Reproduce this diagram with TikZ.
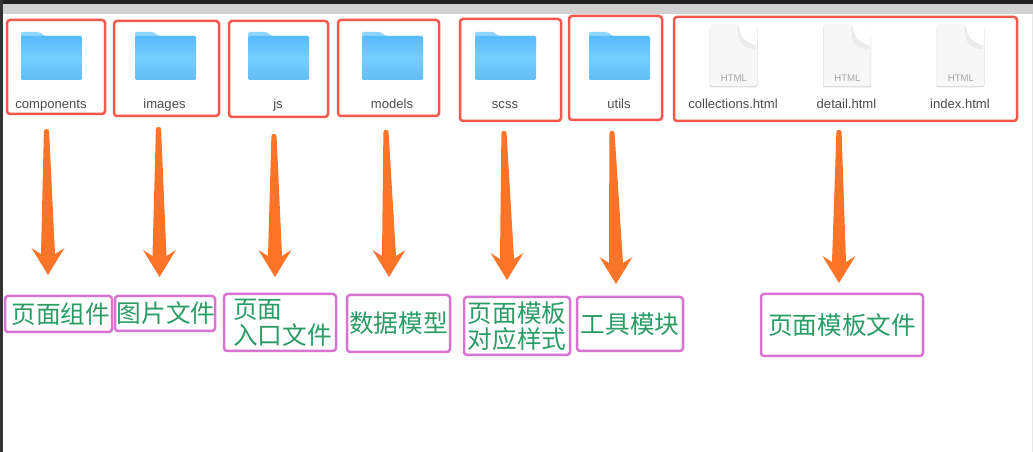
\documentclass[tikz,border=0pt]{standalone}
\usepackage{fontspec}
\setmainfont{Liberation Sans}
\newfontfamily\cjk{Noto Sans CJK SC}
\usetikzlibrary{calc}
\definecolor{redbox}{HTML}{F4574D}
\definecolor{purplebox}{HTML}{D873D2}
\definecolor{greentext}{HTML}{2A9C64}
\definecolor{orangearrow}{HTML}{FB7428}
\definecolor{foldback}{HTML}{90D5FF}
\definecolor{foldtop}{HTML}{58BBFA}
\definecolor{foldmid}{HTML}{76CDFF}
\definecolor{foldlow}{HTML}{62BEF5}
\tikzset{
  filebox/.style={draw=redbox,line width=2.5*.75pt,rounded corners=3*.75pt,inner sep=0pt},
  labelbox/.style={draw=purplebox,line width=2.5*.75pt,rounded corners=3*.75pt,inner sep=0pt,text=greentext,font=\cjk\fontsize{18.5pt}{19.6pt}\selectfont,align=left},
  fname/.style={font=\fontsize{9.8pt}{10pt}\selectfont,text=black!70,inner sep=0pt,anchor=base},
  htmltag/.style={font=\fontsize{7.2pt}{8pt}\selectfont,text=black!35,inner sep=0pt},
}
\newcommand{\folderat}[2]{%
  \fill[foldback,rounded corners=1pt] (#1,#2+12) -- (#1,#2) -- (#1+18,#2) -- (#1+24,#2+4) -- (#1+61,#2+4) -- (#1+61,#2+14) -- cycle;
  \shade[top color=foldtop,bottom color=foldlow,middle color=foldmid,rounded corners=1pt] (#1,#2+4) rectangle (#1+61,#2+48);
}
\newcommand{\fileat}[2]{%
  \fill[black!13,rounded corners=1.5pt] (#1-.5,#2+2) rectangle (#1+47.5,#2+63.5);
  \fill[black!3,rounded corners=1.5pt] (#1,#2) -- (#1+28,#2) -- (#1+47,#2+22) -- (#1+47,#2+62) -- (#1,#2+62) -- cycle;
  \fill[black!8,rounded corners=3pt] (#1+27,#2) -- (#1+29,#2+16) -- (#1+34,#2+23) -- (#1+47.5,#2+26) -- (#1+40,#2+10) -- cycle;
  \fill[white] (#1+29,#2+1) .. controls (#1+30,#2+13) and (#1+34,#2+17) .. (#1+47,#2+22) -- (#1+47,#2+24) .. controls (#1+42,#2+12) and (#1+36,#2+5) .. (#1+29,#2) -- cycle;
  \fill[white] (#1+29,#2) -- (#1+47,#2+22) -- (#1+47.5,#2) -- cycle;
}
\newcommand{\taperarrow}[2]{%
  \fill[orangearrow] ($(#1)+(-2.6,1.5)$) -- ($(#2)+(-7,-21)$) -- ($(#2)+(-16.5,-27)$) -- (#2) -- ($(#2)+(16.5,-27)$) -- ($(#2)+(7,-21)$) -- ($(#1)+(2.6,1.5)$) .. controls ($(#1)+(2.4,-.6)$) and ($(#1)+(1.5,-1)$) .. ($(#1)+(0,-1)$) .. controls ($(#1)+(-1.5,-1)$) and ($(#1)+(-2.4,-.6)$) .. cycle;
}
\begin{document}
\begin{tikzpicture}[x=.75pt,y=-.75pt]
\useasboundingbox (0,0) rectangle (1033,452);
\fill[white] (0,0) rectangle (1033,452);
% window chrome
\fill[black!18] (0,4) rectangle (1033,14);
\fill[black!87] (0,0) rectangle (1033,4);
\fill[black!80] (0,0) rectangle (2.5,452);
\fill[black!9] (1032,14) rectangle (1033,452);
% red boxes
\node[filebox,minimum width=98*.75pt,minimum height=94*.75pt] (fcomp) at (56,67) {};
\node[filebox,minimum width=105*.75pt,minimum height=95*.75pt] (fimg) at (166.5,68.5) {};
\node[filebox,minimum width=99*.75pt,minimum height=96*.75pt] (fjs) at (278.5,69) {};
\node[filebox,minimum width=101*.75pt,minimum height=96*.75pt] (fmod) at (388.5,68) {};
\node[filebox,minimum width=101*.75pt,minimum height=102*.75pt] (fscss) at (510.5,70) {};
\node[filebox,minimum width=93*.75pt,minimum height=104*.75pt] (futil) at (615.5,68) {};
\node[filebox,minimum width=343*.75pt,minimum height=104*.75pt] (fhtml) at (845.5,69) {};
% icons
\folderat{21}{32}\folderat{135}{32}\folderat{248}{32}
\folderat{362}{32}\folderat{475}{32}\folderat{589}{32}
\fileat{710}{24}\fileat{823.5}{24}\fileat{937}{24}
\node[htmltag] (h1) at (734,78.5) {HTML};
\node[htmltag] (h2) at (847.5,78.5) {HTML};
\node[htmltag] (h3) at (961,78.5) {HTML};
% file names
\node[fname] (n1) at (51,108.5) {components};
\node[fname] (n2) at (164.5,108.5) {images};
\node[fname] (n3) at (278,108.5) {js};
\node[fname] (n4) at (392,108.5) {models};
\node[fname] (n5) at (505,108.5) {scss};
\node[fname] (n6) at (619,108.5) {utils};
\node[fname] (n7) at (733,108.5) {collections.html};
\node[fname] (n8) at (846.5,108.5) {detail.html};
\node[fname] (n9) at (960,108.5) {index.html};
% purple boxes
\node[labelbox,minimum width=107*.75pt,minimum height=36*.75pt] (l1) at (58.5,314) {\makebox[60pt][c]{\hspace*{3.5pt}页面组件}};
\node[labelbox,minimum width=100*.75pt,minimum height=35*.75pt] (l2) at (165,313.5) {\makebox[60pt][c]{\hspace*{1.5pt}图片文件}};
\node[labelbox,minimum width=112*.75pt,minimum height=57*.75pt] (l3) at (280,322.5) {\hspace*{3.5pt}页面\\\hspace*{3.5pt}入口文件};
\node[labelbox,minimum width=103*.75pt,minimum height=57*.75pt] (l4) at (398.5,323.5) {数据模型};
\node[labelbox,minimum width=106*.75pt,minimum height=58*.75pt] (l5) at (517,326) {页面模板\\对应样式};
\node[labelbox,minimum width=106*.75pt,minimum height=54*.75pt] (l6) at (630,324) {工具模块};
\node[labelbox,minimum width=162*.75pt,minimum height=62*.75pt] (l7) at (842,325) {页面模板文件};
% arrows
\coordinate (t1) at (46.5,130); \coordinate (a1) at (48,275);
\coordinate (t2) at (158.5,128); \coordinate (a2) at (159.5,277);
\coordinate (t3) at (274,135); \coordinate (a3) at (275,277);
\coordinate (t4) at (386,131); \coordinate (a4) at (389,277);
\coordinate (t5) at (504,132); \coordinate (a5) at (507,280);
\coordinate (t6) at (612,132); \coordinate (a6) at (616,284);
\coordinate (t7) at (839,131); \coordinate (a7) at (839,283);
\taperarrow{t1}{a1}\taperarrow{t2}{a2}\taperarrow{t3}{a3}\taperarrow{t4}{a4}
\taperarrow{t5}{a5}\taperarrow{t6}{a6}\taperarrow{t7}{a7}
\end{tikzpicture}
\end{document}
